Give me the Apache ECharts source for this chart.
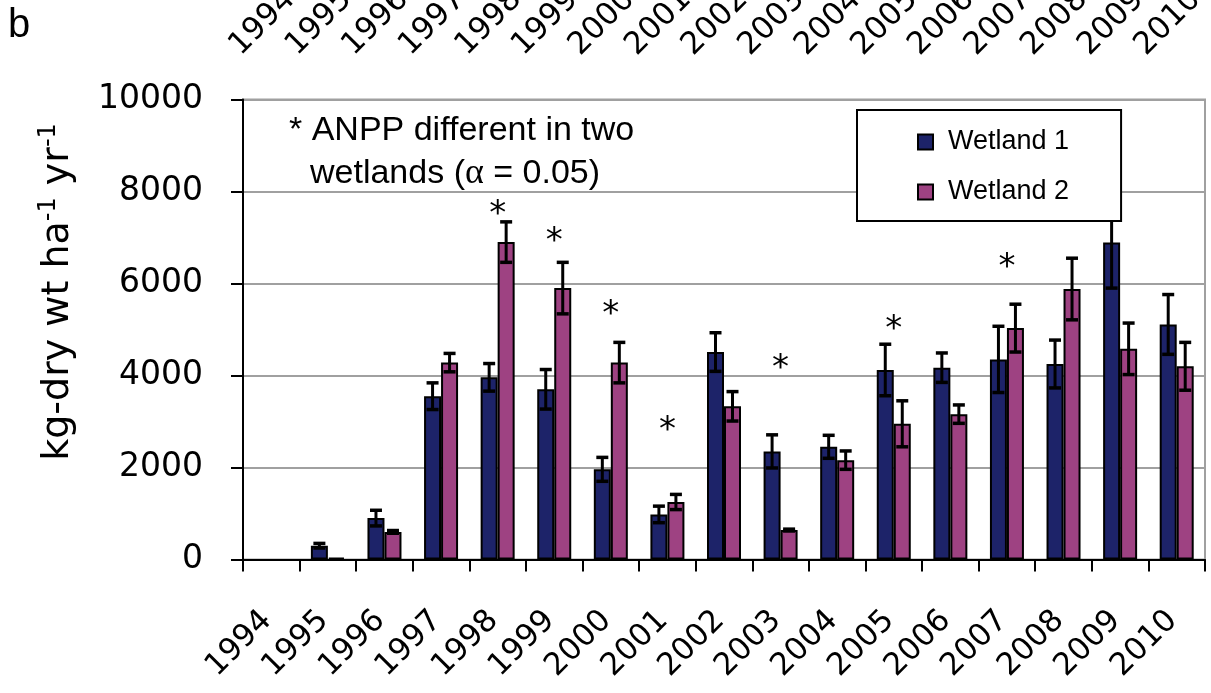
<!DOCTYPE html>
<html>
<head>
<meta charset="utf-8">
<script src="https://cdn.jsdelivr.net/npm/echarts@6/dist/echarts.min.js"></script>
<style>
html,body{margin:0;padding:0;background:#fff;}
#chart{width:1211px;height:693px;}
</style>
</head>
<body>
<div id="chart"></div>
<script>
const years = ['1994','1995','1996','1997','1998','1999','2000','2001','2002','2003','2004','2005','2006','2007','2008','2009','2010'];
const wetland1 = [null, 300, 900, 3550, 3960, 3700, 1960, 980, 4510, 2350, 2450, 4120, 4170, 4350, 4250, 6890, 5110];
const wetland1Err = [0, 50, 170, 290, 300, 430, 260, 180, 420, 360, 250, 560, 320, 720, 520, 990, 650];
const wetland2 = [null, 40, 600, 4280, 6900, 5900, 4280, 1250, 3330, 640, 2160, 2950, 3160, 5030, 5880, 4580, 4200];
const wetland2Err = [0, 0, 30, 200, 440, 560, 440, 165, 320, 20, 200, 500, 200, 520, 670, 560, 520];
const sigYears = ['1998','1999','2000','2001','2003','2005','2007'];
const sigMarkY = [7665, 7074, 5491, 2969, 4318, 5152, 6505];
const yTicks = [0, 2000, 4000, 6000, 8000, 10000];

const BAR_W = 17;
const C_BLUE = '#1d2369';
const C_PINK = '#9e4282';

function errData(vals, errs) {
  const out = [];
  vals.forEach((v, i) => {
    if (v != null && errs[i] > 0) out.push([i, v - errs[i], v + errs[i]]);
  });
  return out;
}

function errRender(offset) {
  return function (params, api) {
    const idx = api.value(0);
    const lo = api.coord([idx, api.value(1)]);
    const hi = api.coord([idx, api.value(2)]);
    const x = lo[0] + offset;
    const cap = 6;
    const st = { stroke: '#000', lineWidth: 3 };
    return {
      type: 'group',
      children: [
        { type: 'line', shape: { x1: x, y1: hi[1], x2: x, y2: lo[1] }, style: st },
        { type: 'line', shape: { x1: x - cap, y1: hi[1], x2: x + cap, y2: hi[1] }, style: { stroke: '#000', lineWidth: 3.5 } },
        { type: 'line', shape: { x1: x - cap, y1: lo[1], x2: x + cap, y2: lo[1] }, style: { stroke: '#000', lineWidth: 3.5 } }
      ]
    };
  };
}

const chart = echarts.init(document.getElementById('chart'), null, { renderer: 'canvas' });

const gridLeft = 243, gridTop = 99.5, gridW = 962, gridH = 460;

const option = {
  animation: false,
  backgroundColor: '#fff',
  grid: [
    { left: gridLeft, top: gridTop, width: gridW, height: gridH, show: true, borderColor: '#a0a0a0', borderWidth: 2, backgroundColor: 'transparent', containLabel: false, outerBoundsMode: 'none' },
    { left: gridLeft - 36.6, top: gridTop, width: gridW, height: gridH, show: false, containLabel: false, outerBoundsMode: 'none' }
  ],
  legend: {
    orient: 'vertical',
    left: 857, top: 110,
    padding: [17, 52, 14, 60],
    itemGap: 20,
    itemWidth: 15, itemHeight: 15,
    icon: 'rect',
    borderColor: '#000', borderWidth: 2,
    backgroundColor: '#fff',
    z: 10,
    data: ['Wetland 1', 'Wetland 2'],
    textStyle: { fontFamily: 'Liberation Sans', fontSize: 27, color: '#000', lineHeight: 30, padding: [0, 0, 0, 10] }
  },
  xAxis: [
    {
      type: 'category', gridIndex: 0, data: years, boundaryGap: true,
      axisLine: { show: true, lineStyle: { color: '#000', width: 2 } },
      axisTick: { show: true, length: 12, inside: false, interval: 0, lineStyle: { color: '#000', width: 2 } },
      axisLabel: { interval: 0, rotate: 45, margin: 52, padding: [0, 6, 0, 0], fontFamily: 'DejaVu Sans', fontSize: 31, color: '#000' },
      splitLine: { show: false }
    },
    {
      type: 'category', gridIndex: 1, data: years, boundaryGap: true, position: 'top',
      axisLine: { show: false }, axisTick: { show: false },
      axisLabel: { interval: 0, rotate: 45, margin: 49, fontFamily: 'DejaVu Sans', fontSize: 31, color: '#000' },
      splitLine: { show: false }
    }
  ],
  yAxis: [
    {
      type: 'value', gridIndex: 0, min: yTicks[0], max: yTicks[yTicks.length - 1], interval: 2000,
      axisLine: { show: true, lineStyle: { color: '#000', width: 2 } },
      axisTick: { show: true, length: 12, inside: false, lineStyle: { color: '#000', width: 2 } },
      axisLabel: { margin: 40, fontFamily: 'DejaVu Sans', fontSize: 33, color: '#000', formatter: v => String(v) },
      splitLine: { show: true, lineStyle: { color: '#a0a0a0', width: 2 } }
    },
    { type: 'value', gridIndex: 1, show: false, min: 0, max: 10000 }
  ],
  series: [
    {
      name: 'Wetland 1', type: 'bar', xAxisIndex: 0, yAxisIndex: 0, data: wetland1,
      barWidth: BAR_W, barGap: '0%',
      itemStyle: { color: C_BLUE, borderColor: '#000', borderWidth: 2 }
    },
    {
      name: 'Wetland 2', type: 'bar', xAxisIndex: 0, yAxisIndex: 0, data: wetland2,
      barWidth: BAR_W, barGap: '0%',
      itemStyle: { color: C_PINK, borderColor: '#000', borderWidth: 2 }
    },
    {
      type: 'custom', name: 'err1', xAxisIndex: 0, yAxisIndex: 0, z: 3,
      data: errData(wetland1, wetland1Err), encode: { x: 0, y: [1, 2] },
      renderItem: errRender(-BAR_W / 2), silent: true
    },
    {
      type: 'custom', name: 'err2', xAxisIndex: 0, yAxisIndex: 0, z: 3,
      data: errData(wetland2, wetland2Err), encode: { x: 0, y: [1, 2] },
      renderItem: errRender(BAR_W / 2), silent: true
    },
    {
      type: 'custom', name: 'sig', xAxisIndex: 0, yAxisIndex: 0, z: 3, silent: true,
      data: sigYears.map((y, i) => [years.indexOf(y), sigMarkY[i]]),
      encode: { x: 0, y: 1 },
      renderItem: function (params, api) {
        const p = api.coord([api.value(0), api.value(1)]);
        return {
          type: 'text', x: p[0], y: p[1] + 8,
          style: { text: '*', fontFamily: 'DejaVu Sans', fontSize: 34, fill: '#000', align: 'center', verticalAlign: 'middle' }
        };
      }
    }
  ],
  graphic: [
    { type: 'text', x: 8, y: 26, style: { text: 'b', fontFamily: 'Liberation Sans', fontSize: 40, fill: '#000', align: 'left', verticalAlign: 'middle' } },
    { type: 'text', x: 289, y: 131, style: { text: '* ANPP different in two', fontFamily: 'Liberation Sans', fontSize: 34, fill: '#000', align: 'left', verticalAlign: 'middle' } },
    { type: 'text', x: 310, y: 174, style: {
        text: '{a|wetlands (}{g|α}{a| = 0.05)}',
        align: 'left', verticalAlign: 'middle',
        rich: {
          a: { fontFamily: 'Liberation Sans', fontSize: 34, fill: '#000', lineHeight: 38 },
          g: { fontFamily: 'Liberation Serif', fontSize: 36, fill: '#000', lineHeight: 38 }
        }
      } },
    { type: 'text', x: 58, y: 292, rotation: Math.PI / 2, style: {
        text: '{a|kg-dry wt ha}{s|-1}{a| yr}{s|-1}',
        align: 'center', verticalAlign: 'middle',
        rich: {
          a: { fontFamily: 'DejaVu Sans', fontSize: 38, fill: '#000', lineHeight: 42 },
          s: { fontFamily: 'DejaVu Sans', fontSize: 24, fill: '#000', lineHeight: 26, verticalAlign: 'top' }
        }
      } }
  ]
};
chart.setOption(option);
</script>
</body>
</html>
